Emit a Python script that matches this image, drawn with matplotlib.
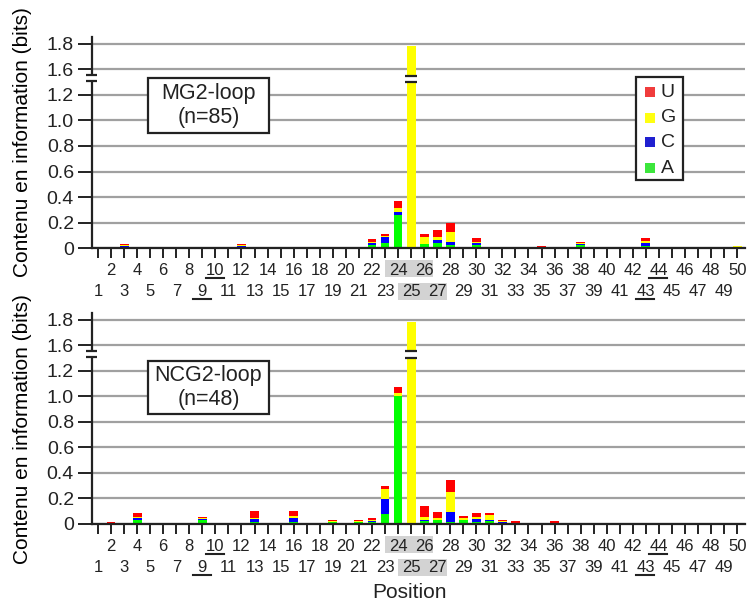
import numpy as np
import matplotlib.pyplot as plt
from matplotlib.patches import Rectangle

plt.rcParams['font.family'] = ['Liberation Sans', 'DejaVu Sans']
plt.rcParams['text.color'] = '#222222'

bases = ['A', 'C', 'G', 'U']
colors = {'A': '#00ff00', 'C': '#0000ff', 'G': '#ffff00', 'U': '#ff0000'}
legend_colors = {'A': '#3ce63c', 'C': '#2020d0', 'G': '#ffff10', 'U': '#f03c3c'}

# MG2-loop (n=85), only positions with something drawn
mg2_pos = [3, 9, 12, 22, 23, 24, 25, 26, 27, 28, 29, 30, 35, 36, 37, 38, 40, 43, 50]
mg2_A = [0.010, 0, 0.010, 0.021, 0.037, 0.261, 0, 0.034, 0.042, 0.021, 0, 0.024, 0, 0, 0, 0.021, 0, 0.013, 0.008]
mg2_C = [0.008, 0, 0.007, 0.016, 0.047, 0.018, 0, 0, 0.024, 0.024, 0, 0.016, 0.010, 0, 0, 0.008, 0, 0.024, 0]
mg2_G = [0.003, 0, 0.005, 0.008, 0.013, 0.037, 1.78, 0.055, 0.018, 0.084, 0, 0.005, 0, 0.008, 0, 0.008, 0.006, 0.016, 0.010]
mg2_U = [0.013, 0.008, 0.008, 0.029, 0.016, 0.055, 0, 0.024, 0.060, 0.065, 0.008, 0.037, 0.008, 0, 0.008, 0.008, 0, 0.024, 0]

# NCG2-loop (n=48)
ncg2_pos = [2, 4, 9, 13, 16, 17, 19, 20, 21, 22, 23, 24, 25, 26, 27, 28, 29, 30, 31, 32, 33, 36]
ncg2_A = [0, 0.034, 0.029, 0.018, 0.018, 0, 0.013, 0, 0.013, 0.013, 0.081, 1.006, 0, 0.021, 0.034, 0.013, 0.034, 0.018, 0.026, 0.005, 0, 0]
ncg2_C = [0, 0.016, 0.010, 0.018, 0.031, 0, 0, 0, 0, 0.010, 0.118, 0, 0, 0.008, 0, 0.084, 0, 0.024, 0.008, 0.008, 0.010, 0.010]
ncg2_G = [0.006, 0.005, 0.005, 0.008, 0.016, 0.008, 0.008, 0.008, 0.008, 0.005, 0.078, 0.024, 1.78, 0.029, 0.016, 0.157, 0.016, 0.016, 0.039, 0.008, 0, 0]
ncg2_U = [0.008, 0.029, 0.008, 0.055, 0.034, 0, 0.008, 0, 0.008, 0.021, 0.024, 0.047, 0, 0.086, 0.047, 0.094, 0.016, 0.031, 0.016, 0.013, 0.010, 0.016]

even_pos = list(range(2, 51, 2))
odd_pos = list(range(1, 50, 2))
ytick_vals = [0, 0.2, 0.4, 0.6, 0.8, 1.0, 1.2, 1.6, 1.8]
ytick_labels = ['0', '0.2', '0.4', '0.6', '0.8', '1.0', '1.2', '1.6', '1.8']
break_lo, break_hi = 1.3, 1.5   # part of the y axis that is cut out


def squash(y):
    y = np.asarray(y, dtype=float)
    return np.where(y > break_hi, y - (break_hi - break_lo), np.minimum(y, break_lo))


def break_mark(ax, x0, x1, yc):
    ax.add_patch(Rectangle((x0, yc - 0.024), x1 - x0, 0.048, fc='white', ec='none',
                           zorder=4, clip_on=False))
    for y in (yc - 0.024, yc + 0.024):
        ax.plot([x0, x1], [y, y], color='#222222', lw=1.6, zorder=5, clip_on=False,
                solid_capstyle='butt')


def draw_panel(ax, pos, vals, title, ylab_y):
    pos = np.array(pos)
    bottom = np.zeros(len(pos))
    for b in bases:
        top = bottom + np.array(vals[b])
        ax.bar(pos, squash(top) - squash(bottom), bottom=squash(bottom), width=0.68,
               color=colors[b], linewidth=0, zorder=2)
        bottom = top
    for p, t in zip(pos, bottom):
        if t > break_hi:
            break_mark(ax, p - 0.46, p + 0.46, 1.328)
    break_mark(ax, 0.08, 0.92, 1.33)

    ax.set_xlim(0.54, 50.6)
    ax.set_ylim(0, 1.655)
    ax.set_yticks(squash(ytick_vals))
    ax.set_yticklabels(ytick_labels, fontsize=14)
    ax.set_xticks(even_pos)
    ax.set_xticklabels([str(p) for p in even_pos], fontsize=12)
    ax.set_xticks(odd_pos, minor=True)
    ax.set_xticklabels([str(p) for p in odd_pos], minor=True, fontsize=12)
    ax.tick_params(axis='x', which='both', direction='out', length=7, width=1.4,
                   color='#222222', labelcolor='#222222')
    ax.tick_params(axis='x', which='major', pad=3.5)
    ax.tick_params(axis='x', which='minor', pad=19)
    ax.tick_params(axis='y', direction='out', length=10, width=1.4, pad=3,
                   color='#222222', labelcolor='#222222')
    ax.yaxis.grid(True, color='#a0a0a0', lw=1.6)
    ax.set_axisbelow(True)
    for s in ['top', 'right']:
        ax.spines[s].set_visible(False)
    for s in ['left', 'bottom']:
        ax.spines[s].set_linewidth(1.6)
        ax.spines[s].set_color('#222222')
    ax.set_ylabel('Contenu en information (bits)', fontsize=15)
    ax.yaxis.set_label_coords(-0.092, ylab_y)

    # underlined and shaded tick labels
    axh = 211.0
    xt = ax.get_xaxis_transform()
    for c, dy in [(10, 30), (9, 51), (44, 30), (43, 51)]:
        ax.plot([c - 0.75, c + 0.65], [-dy / axh, -dy / axh], color='#222222', lw=1.5,
                transform=xt, clip_on=False)
    ax.add_patch(Rectangle((23.0, -29 / axh), 3.7, 17 / axh, fc='#d3d3d3', ec='none',
                           transform=xt, clip_on=False, zorder=0))
    ax.add_patch(Rectangle((24.0, -52 / axh), 3.75, 17 / axh, fc='#d3d3d3', ec='none',
                           transform=xt, clip_on=False, zorder=0))

    # title box
    bx0, bx1 = 0.0858, 0.271
    by0, by1 = title[1], title[2]
    ax.add_patch(Rectangle((bx0, by0), bx1 - bx0, by1 - by0, transform=ax.transAxes,
                           fc='white', ec='#222222', lw=1.6, zorder=3))
    ax.text((bx0 + bx1) / 2, (by0 + by1) / 2, title[0], transform=ax.transAxes,
            ha='center', va='center', fontsize=15.5, linespacing=1.2, zorder=4)


fig = plt.figure(figsize=(7.48, 6.05), dpi=100)
ax1 = fig.add_axes([0.123, 0.590, 0.873, 0.349])
ax2 = fig.add_axes([0.123, 0.134, 0.873, 0.349])

draw_panel(ax1, mg2_pos, {'A': mg2_A, 'C': mg2_C, 'G': mg2_G, 'U': mg2_U},
           ('MG2-loop\n(n=85)', 0.545, 0.806), 0.50)
draw_panel(ax2, ncg2_pos, {'A': ncg2_A, 'C': ncg2_C, 'G': ncg2_G, 'U': ncg2_U},
           ('NCG2-loop\n(n=48)', 0.521, 0.773), 0.45)

# legend, drawn by hand
ax1.add_patch(Rectangle((0.833, 0.322), 0.072, 0.488, transform=ax1.transAxes,
                        fc='white', ec='#222222', lw=1.6, zorder=3))
for b, y in zip(['U', 'G', 'C', 'A'], [0.739, 0.616, 0.502, 0.379]):
    ax1.add_patch(Rectangle((0.8545 - 0.0084, y - 0.0235), 0.0168, 0.047,
                            transform=ax1.transAxes, fc=legend_colors[b], ec='none', zorder=4))
    ax1.text(0.871, y, b, transform=ax1.transAxes, ha='left', va='center',
             fontsize=14, zorder=4)

fig.text(410 / 748, 1 - 592 / 605, 'Position', ha='center', va='center', fontsize=15)

fig.savefig('out.png', dpi=100)
